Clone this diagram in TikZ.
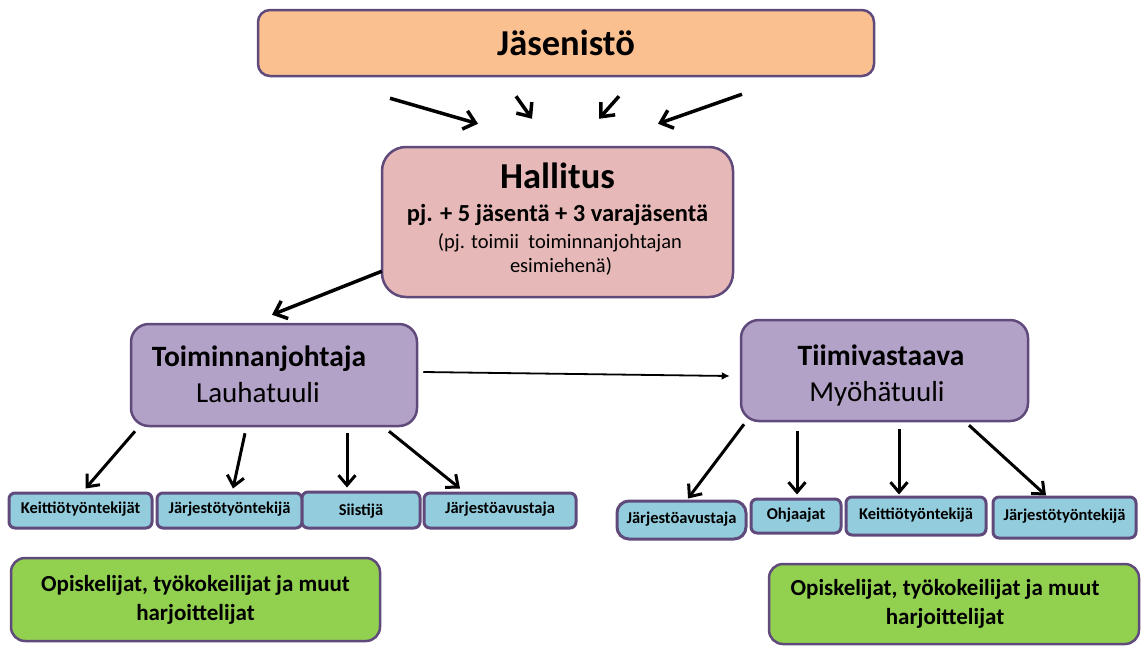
\documentclass[tikz,border=0pt]{standalone}
\usepackage{fontspec}
\setmainfont{Carlito}
\usetikzlibrary{arrows.meta}
\definecolor{bordc}{HTML}{604A7B}
\definecolor{orangef}{HTML}{FAC090}
\definecolor{pinkf}{HTML}{E6B9B8}
\definecolor{purplef}{HTML}{B3A2C7}
\definecolor{bluef}{HTML}{93CDDD}
\definecolor{greenf}{HTML}{92D050}
\begin{document}
\begin{tikzpicture}[x=1pt,y=-1pt,
  boxbase/.style={draw=bordc, line width=2.5pt, inner sep=0pt, align=center},
  topbox/.style={boxbase, fill=orangef, rounded corners=12pt},
  halbox/.style={boxbase, fill=pinkf, rounded corners=24pt},
  mgrbox/.style={boxbase, fill=purplef, rounded corners=18pt},
  smallbox/.style={boxbase, line width=3pt, fill=bluef, rounded corners=6pt, text height=10.5pt, text depth=4pt, font=\fontsize{16.5}{19}\selectfont\bfseries},
  roundsmall/.style={smallbox, rounded corners=12pt},
  greenbox/.style={boxbase, fill=greenf, rounded corners=14pt, font=\fontsize{23}{29}\selectfont\bfseries},
  bigarr/.style={line width=3.5pt, -{Straight Barb[length=11pt,width=19pt]}},
  subarr/.style={line width=3pt, -{Straight Barb[length=10pt,width=17pt]}},
  thinarr/.style={line width=1.8pt, -{Latex[length=8pt,width=8pt]}},
  mgrtitle/.style={anchor=base, font=\fontsize{29.5}{32}\selectfont\bfseries},
  mgrname/.style={anchor=base, font=\fontsize{29}{32}\selectfont}
]
\useasboundingbox (0,0) rectangle (1144,646);

% main boxes
\node[topbox, minimum width=616pt, minimum height=66pt, font=\fontsize{36.5}{40}\selectfont\bfseries] (jas) at (566,43) {Jäsenistö};
\node[halbox, minimum width=351pt, minimum height=150pt] (hal) at (557.5,222) {};
\node[anchor=base, font=\fontsize{36.5}{40}\selectfont\bfseries] (halt1) at (557.5,188) {Hallitus};
\node[anchor=base, font=\fontsize{24.5}{28}\selectfont\bfseries] (halt2) at (557.5,221) {pj. + 5 jäsentä + 3 varajäsentä};
\node[anchor=base, font=\fontsize{20.5}{24}\selectfont] (halt3) at (560,248) {(pj. toimii\ \ toiminnanjohtajan};
\node[anchor=base, font=\fontsize{20.5}{24}\selectfont] (halt4) at (561,272) {esimiehenä)};

\node[mgrbox, minimum width=286pt, minimum height=102pt] (toim) at (274,375) {};
\node[mgrtitle] (toimt1) at (259,366) {Toiminnanjohtaja};
\node[mgrname] (toimt2) at (258,402) {Lauhatuuli};

\node[mgrbox, minimum width=287pt, minimum height=101pt] (tiimi) at (884.5,370.5) {};
\node[mgrtitle] (tiimit1) at (881,365) {Tiimivastaava};
\node[mgrname] (tiimit2) at (877,401) {Myöhätuuli};

% left small boxes
\node[smallbox, minimum width=143pt, minimum height=35pt] (L1) at (80.5,510.5) {Keittiötyöntekijät};
\node[smallbox, minimum width=145pt, minimum height=35pt] (L2) at (229.5,510.5) {Järjestötyöntekijä};
\node[smallbox, minimum width=118pt, minimum height=36pt, text height=12pt, text depth=2pt] (L3) at (361,510) {Siistijä};
\node[smallbox, minimum width=152pt, minimum height=35pt, text height=10pt, text depth=5pt] (L4) at (500,510.5) {Järjestöavustaja};

% right small boxes
\node[roundsmall, minimum width=129pt, minimum height=38pt] (R1) at (681.5,520) {Järjestöavustaja};
\node[smallbox, minimum width=90pt, minimum height=34pt] (R2) at (796,516) {Ohjaajat};
\node[smallbox, minimum width=140pt, minimum height=38pt] (R3) at (916,516) {Keittiötyöntekijä};
\node[smallbox, minimum width=143pt, minimum height=41pt] (R4) at (1064.5,517.5) {Järjestötyöntekijä};

% green boxes
\node[greenbox, minimum width=369pt, minimum height=83pt] (G1) at (195.5,599.5) {Opiskelijat, työkokeilijat ja muut\\harjoittelijat};
\node[greenbox, minimum width=370pt, minimum height=80pt] (G2) at (954,604) {Opiskelijat, työkokeilijat ja muut\hspace*{18pt}\\harjoittelijat\hspace*{18pt}};

% arrows from Jäsenistö toward Hallitus
\draw[bigarr] ([xshift=-176pt,yshift=-21pt]jas.south) -- ([xshift=-79.5pt,yshift=22pt]hal.north);
\draw[bigarr] ([xshift=-50pt,yshift=-19pt]jas.south) -- ([xshift=-25.5pt,yshift=27pt]hal.north);
\draw[bigarr] ([xshift=53pt,yshift=-19pt]jas.south) -- ([xshift=41.5pt,yshift=27pt]hal.north);
\draw[bigarr] ([xshift=176pt,yshift=-17pt]jas.south) -- ([xshift=100.5pt,yshift=22pt]hal.north);

% Hallitus -> Toiminnanjohtaja
\draw[bigarr] ([xshift=1pt,yshift=27pt]hal.south west) -- ([xshift=-2pt,yshift=8pt]toim.north);

% Toiminnanjohtaja -> Tiimivastaava
\draw[thinarr] ([xshift=5pt,yshift=3pt]toim.east) -- ([xshift=-10pt,yshift=-5.5pt]tiimi.west);

% Toiminnanjohtaja -> left boxes
\draw[subarr] ([xshift=-139pt,yshift=-4pt]toim.south) -- ([xshift=5pt,yshift=3pt]L1.north);
\draw[subarr] ([xshift=-29pt,yshift=-6pt]toim.south) -- ([xshift=3.5pt,yshift=3pt]L2.north);
\draw[subarr] ([xshift=73pt,yshift=-6pt]toim.south) -- ([xshift=-14pt,yshift=3pt]L3.north);
\draw[subarr] ([xshift=115pt,yshift=-4pt]toim.south) -- ([xshift=-40pt,yshift=3pt]L4.north);

% Tiimivastaava -> right boxes
\draw[subarr] ([xshift=-140.5pt,yshift=-2pt]tiimi.south) -- ([xshift=6.5pt,yshift=1pt]R1.north);
\draw[subarr] ([xshift=-87.5pt,yshift=-9pt]tiimi.south) -- ([xshift=1pt,yshift=3pt]R2.north);
\draw[subarr] ([xshift=14.5pt,yshift=-7pt]tiimi.south) -- ([xshift=-17pt,yshift=1pt]R3.north);
\draw[subarr] ([xshift=84.5pt,yshift=-3pt]tiimi.south) -- ([xshift=-18.5pt,yshift=0pt]R4.north);
\end{tikzpicture}
\end{document}
